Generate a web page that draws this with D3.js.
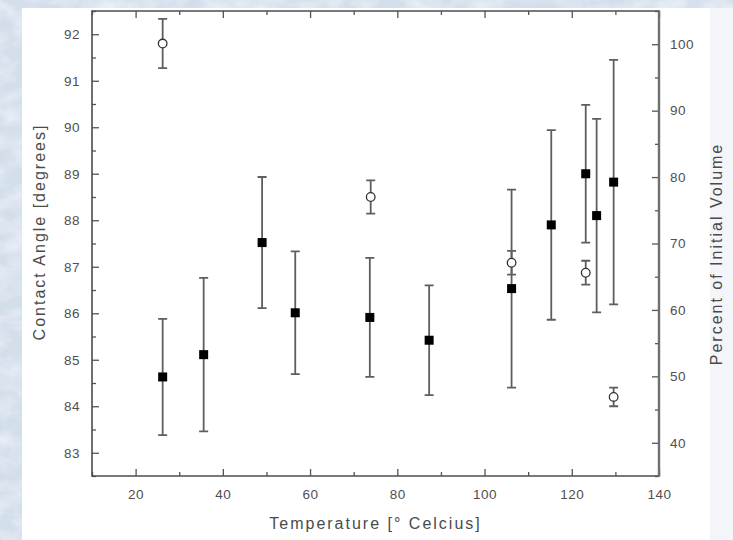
<!DOCTYPE html>
<html>
<head>
<meta charset="utf-8">
<script src="https://cdn.jsdelivr.net/npm/d3@7"></script>
<style>
  html, body { margin: 0; padding: 0; width: 733px; height: 540px; overflow: hidden; background: #dfe7f1; }
  svg { display: block; font-family: "Liberation Sans", Arial, sans-serif; }
</style>
</head>
<body>
<svg id="chart" width="733" height="540"></svg>
<script>
// Contact angle (filled squares, left axis) and percent of initial volume
// (open circles, right axis) versus temperature.
const angleTemps = [26.2, 35.6, 49.0, 56.6, 73.7, 87.3, 106.2, 115.3, 123.2, 125.7, 129.6];
const angleValues = [84.63, 85.11, 87.52, 86.01, 85.91, 85.42, 86.53, 87.90, 89.00, 88.10, 88.82];
const angleErrors = [1.25, 1.65, 1.41, 1.32, 1.28, 1.18, 2.13, 2.04, 1.48, 2.08, 2.63];

const volumeTemps = [26.2, 73.9, 106.2, 123.2, 129.6];
const volumeValues = [100.1, 77.0, 67.1, 65.6, 46.9];
const volumeErrors = [3.7, 2.5, 1.8, 1.8, 1.4];

const xTicks = [20, 40, 60, 80, 100, 120, 140];
const xMinorTicks = [10, 30, 50, 70, 90, 110, 130];
const leftTicks = [83, 84, 85, 86, 87, 88, 89, 90, 91, 92];
const leftMinorTicks = [82.5, 83.5, 84.5, 85.5, 86.5, 87.5, 88.5, 89.5, 90.5, 91.5, 92.5];
const rightTicks = [40, 50, 60, 70, 80, 90, 100];
const rightMinorTicks = [35, 45, 55, 65, 75, 85, 95, 105];

const xTitle = "Temperature [° Celcius]";
const leftTitle = "Contact Angle [degrees]";
const rightTitle = "Percent of Initial Volume";

const svg = d3.select("#chart");
const plot = { left: 92, right: 659, top: 11, bottom: 476 };

// textured bluish backdrop
const defs = svg.append("defs");
const tex = defs.append("filter").attr("id", "marble").attr("x", 0).attr("y", 0).attr("width", "100%").attr("height", "100%");
tex.append("feTurbulence").attr("type", "fractalNoise").attr("baseFrequency", "0.035 0.06").attr("numOctaves", 4).attr("seed", 7);
tex.append("feColorMatrix").attr("type", "matrix")
  .attr("values", "0 0 0 0 0.9  0 0 0 0 0.93  0 0 0 0 0.97  0 0 0 -1.3 0.85");
svg.append("rect").attr("width", 733).attr("height", 540).attr("fill", "#d3deeb");
svg.append("rect").attr("width", 733).attr("height", 540).attr("filter", "url(#marble)");

svg.append("rect").attr("x", 710).attr("y", 8).attr("width", 23).attr("height", 532).attr("fill", "#f3f5f8");
svg.append("rect").attr("x", 22).attr("y", 8).attr("width", 688).attr("height", 532).attr("fill", "#ffffff");

const x = d3.scaleLinear().domain([10, 140]).range([plot.left, plot.right]);
const yL = d3.scaleLinear().domain([82.5, 92.5]).range([plot.bottom, plot.top]);
const yR = d3.scaleLinear().domain([35, 105]).range([plot.bottom, plot.top]);

function styleAxis(g) {
  g.select(".domain").remove();
  g.selectAll(".tick line").attr("stroke", "#555").attr("stroke-width", 1.3);
  g.selectAll(".tick text").attr("fill", "#505050").style("font-size", "13.5px").style("letter-spacing", "0.5px");
}

// minor ticks
svg.append("g").attr("transform", `translate(0,${plot.bottom})`)
  .call(d3.axisBottom(x).tickValues(xMinorTicks).tickSize(-4).tickFormat("")).call(styleAxis);
svg.append("g").attr("transform", `translate(0,${plot.top})`)
  .call(d3.axisTop(x).tickValues(xMinorTicks).tickSize(-4).tickFormat("")).call(styleAxis);
svg.append("g").attr("transform", `translate(${plot.left},0)`)
  .call(d3.axisLeft(yL).tickValues(leftMinorTicks).tickSize(-4).tickFormat("")).call(styleAxis);
svg.append("g").attr("transform", `translate(${plot.right},0)`)
  .call(d3.axisRight(yR).tickValues(rightMinorTicks).tickSize(-4).tickFormat("")).call(styleAxis);

// major ticks and labels
svg.append("g").attr("transform", `translate(0,${plot.bottom})`)
  .call(d3.axisBottom(x).tickValues(xTicks).tickSize(-7).tickPadding(13)).call(styleAxis);
svg.append("g").attr("transform", `translate(0,${plot.top})`)
  .call(d3.axisTop(x).tickValues(xTicks).tickSize(-7).tickFormat("")).call(styleAxis);
svg.append("g").attr("transform", `translate(${plot.left},0)`)
  .call(d3.axisLeft(yL).tickValues(leftTicks).tickSize(-7).tickPadding(12)).call(styleAxis);
svg.append("g").attr("transform", `translate(${plot.right},0)`)
  .call(d3.axisRight(yR).tickValues(rightTicks).tickSize(-7).tickPadding(11)).call(styleAxis);

// frame
svg.append("path")
  .attr("d", `M${plot.right},${plot.top}H${plot.left}V${plot.bottom}H${plot.right}`)
  .attr("fill", "none").attr("stroke", "#4d4d4d").attr("stroke-width", 1.6);
svg.append("line")
  .attr("x1", plot.right).attr("x2", plot.right).attr("y1", plot.top - 0.8).attr("y2", plot.bottom + 0.8)
  .attr("stroke", "#707070").attr("stroke-width", 2.4);

// error bars
function errorBars(temps, values, errors, y, cap) {
  const data = temps.map((t, i) => ({ t, v: values[i], e: errors[i] }));
  const g = svg.append("g").attr("stroke", "#5e5e5e").attr("stroke-width", 1.8).attr("fill", "none");
  g.selectAll("path").data(data).join("path")
    .attr("d", (d) => {
      const cx = x(d.t), y0 = y(d.v + d.e), y1 = y(d.v - d.e);
      return `M${cx},${y0}V${y1}M${cx - cap},${y0}H${cx + cap}M${cx - cap},${y1}H${cx + cap}`;
    });
  return data;
}

const squares = errorBars(angleTemps, angleValues, angleErrors, yL, 4.5);
const circles = errorBars(volumeTemps, volumeValues, volumeErrors, yR, 4.5);

svg.append("g").selectAll("rect").data(squares).join("rect")
  .attr("x", (d) => x(d.t) - 4.5).attr("y", (d) => yL(d.v) - 4.5)
  .attr("width", 9).attr("height", 9).attr("fill", "#000");

svg.append("g").selectAll("circle").data(circles).join("circle")
  .attr("cx", (d) => x(d.t)).attr("cy", (d) => yR(d.v)).attr("r", 4.3)
  .attr("fill", "#fff").attr("stroke", "#333").attr("stroke-width", 1.3);

// axis titles
const titleStyle = (t) => t.attr("fill", "#4a4a4a").attr("text-anchor", "middle")
  .style("font-size", "16px").style("letter-spacing", "2px");

svg.append("text").attr("x", (plot.left + plot.right) / 2).attr("y", 529).text(xTitle).call(titleStyle);
svg.append("text").attr("transform", "translate(45,232) rotate(-90)").text(leftTitle).call(titleStyle);
svg.append("text").attr("transform", "translate(722,254) rotate(-90)").text(rightTitle).call(titleStyle);
</script>
</body>
</html>
